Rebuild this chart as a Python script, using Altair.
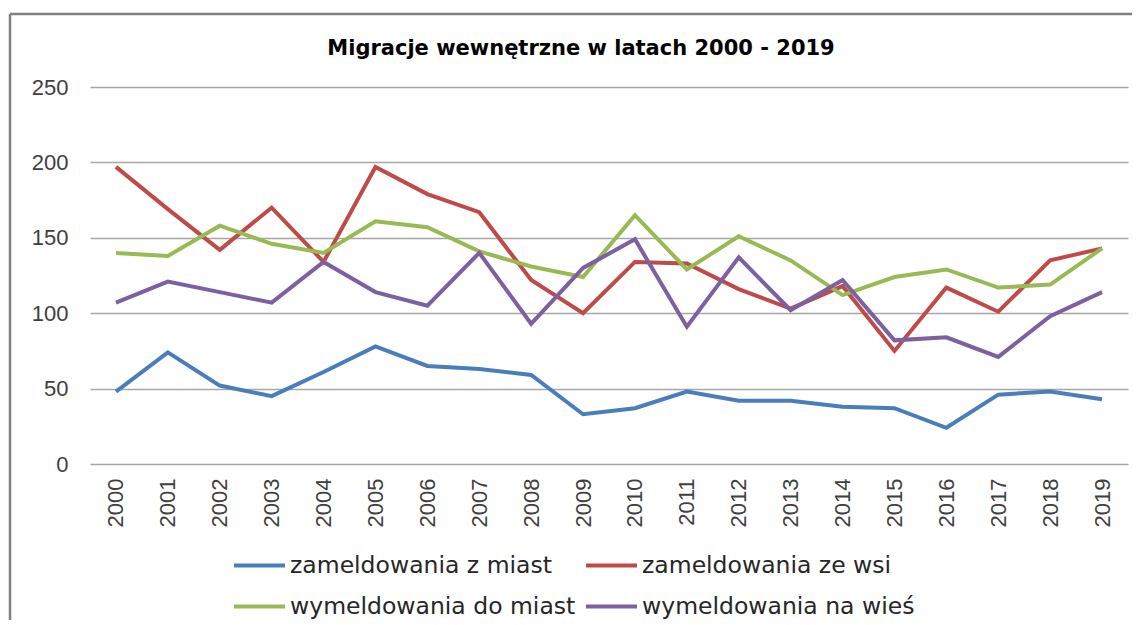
import altair as alt
import pandas as pd

years = [str(y) for y in range(2000, 2020)]
zameldowania_z_miast = [48, 74, 52, 45, 61, 78, 65, 63, 59, 33, 37, 48, 42, 42, 38, 37, 24, 46, 48, 43]
zameldowania_ze_wsi = [197, 169, 142, 170, 134, 197, 179, 167, 122, 100, 134, 133, 116, 103, 118, 75, 117, 101, 135, 143]
wymeldowania_do_miast = [140, 138, 158, 146, 140, 161, 157, 141, 131, 124, 165, 129, 151, 135, 112, 124, 129, 117, 119, 143]
wymeldowania_na_wies = [107, 121, 114, 107, 134, 114, 105, 140, 93, 130, 149, 91, 137, 102, 122, 82, 84, 71, 98, 114]

series_names = ["zameldowania z miast", "zameldowania ze wsi",
                "wymeldowania do miast", "wymeldowania na wieś"]
series_values = [zameldowania_z_miast, zameldowania_ze_wsi,
                 wymeldowania_do_miast, wymeldowania_na_wies]
colors = ["#4A7EBB", "#BE4B48", "#98B954", "#7D60A0"]

rows = []
for name, vals in zip(series_names, series_values):
    for i, (yr, v) in enumerate(zip(years, vals)):
        rows.append({"rok": yr, "seria": name, "wartosc": v, "kolejnosc": i})
df = pd.DataFrame(rows)

lines = alt.Chart(df).mark_line(strokeWidth=4, strokeJoin="miter").encode(
    x=alt.X("rok:O", sort=years,
            scale=alt.Scale(type="point", padding=0.5),
            axis=alt.Axis(title=None, labelAngle=270, ticks=False, domain=False,
                          labelFont="Liberation Sans", labelFontSize=22,
                          labelColor="#404040", labelPadding=14)),
    y=alt.Y("wartosc:Q", scale=alt.Scale(domain=[0, 250], nice=False),
            axis=alt.Axis(title=None, values=[0, 50, 100, 150, 200, 250],
                          ticks=False, domain=False, gridColor="#A6A6A6",
                          gridWidth=1.5, labelFont="Liberation Sans",
                          labelFontSize=22, labelColor="#404040",
                          labelPadding=22)),
    color=alt.Color("seria:N", sort=series_names,
                    scale=alt.Scale(domain=series_names, range=colors),
                    legend=alt.Legend(title=None, orient="none", legendX=142,
                                      legendY=451, columns=2, direction="horizontal",
                                      symbolType="stroke", symbolSize=2601,
                                      symbolStrokeWidth=4, labelOffset=3,
                                      labelFont="DejaVu Sans", labelFontSize=23.5,
                                      labelColor="#262626", rowPadding=2,
                                      columnPadding=2, padding=0, labelLimit=0)),
    order="kolejnosc:Q",
)

frame_data = alt.Data(values=[{"k": 1}])
top_line = alt.Chart(frame_data).mark_rule(color="#808080", strokeWidth=2.5).encode(
    x=alt.value(-80), x2=alt.value(1060), y=alt.value(-73))
left_line = alt.Chart(frame_data).mark_rule(color="#808080", strokeWidth=2.5).encode(
    x=alt.value(-80), y=alt.value(-73), y2=alt.value(560))

chart = alt.layer(top_line, left_line, lines).properties(
    width=1038, height=377,
    autosize=alt.AutoSizeParams(type="none"),
    padding={"left": 82, "top": 79, "right": 4, "bottom": 156},
    title=alt.Title("Migracje wewnętrzne w latach 2000 - 2019", font="DejaVu Sans",
                    fontSize=21, fontWeight="bold", color="#000000",
                    anchor="middle", dx=-28, offset=-46),
).configure_view(stroke=None)

chart.save("out.html", embed_options={"renderer": "svg", "actions": False})
